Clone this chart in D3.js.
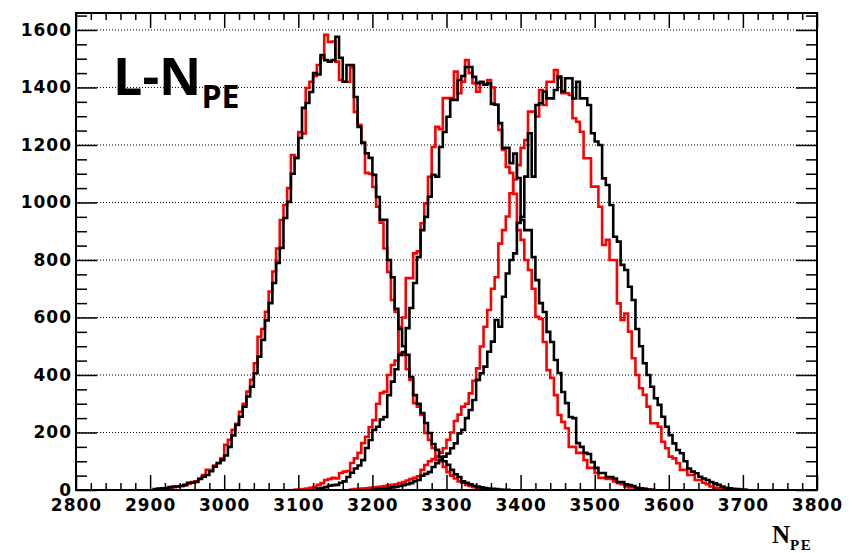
<!DOCTYPE html>
<html>
<head>
<meta charset="utf-8">
<title>L-NPE histograms</title>
<script src="https://cdnjs.cloudflare.com/ajax/libs/d3/7.8.5/d3.min.js"></script>
<style>
  body { margin: 0; background: #fff; }
  .tick text { font-family: "DejaVu Sans", sans-serif; font-weight: bold; font-size: 17px; letter-spacing: 1px; fill: #000; }
  .tick line { stroke: #000; stroke-width: 1.5; }
  .domain { display: none; }
</style>
</head>
<body>
<div id="chart"></div>
<script>
// bin width 5 N_PE; each array starts at its own lower edge
const binWidth = 5;

const h1BlackStart = 2905;
const h1Black = [3,5,6,7,10,12,12,14,17,25, 25,28,38,46,52,65,81,93,104,120,
  150,190,226,255,290,325,359,406,464,522, 590,650,720,790,842,946,1002,1100,1155,1224,
  1329,1346,1384,1450,1445,1513,1495,1490,1495,1576, 1503,1420,1478,1478,1367,1263,1207,1171,1155,1096,
  1019,940,940,800,740,630,560,500,470,393, 330,300,268,233,198,160,140,115,100,88,
  70,55,45,30,25,20,15,12,9,7, 5,4,3,2,1,1];

const h1RedStart = 2905;
const h1Red = [2,3,4,6,8,10,12,14,18,22, 28,30,40,52,70,68,85,95,110,157,
  175,209,230,272,300,342,383,441,533,560, 620,690,760,840,939,991,1050,1165,1155,1245,
  1240,1398,1420,1440,1478,1503,1583,1558,1560,1490, 1426,1420,1420,1470,1315,1270,1210,1103,1100,1054,
  985,930,840,758,661,619,476,470,420,383, 302,290,261,198,174,146,104,100,80,62,
  50,40,30,25,18,14,10,7,5,4, 2,2,1];

const h2BlackStart = 3125;
const h2Black = [5,7,10,15,17,18,25,30,45,60, 75,85,104,146,174,209,220,245,254,330,
  377,420,470,480,563,633,720,810,904,950, 1020,1096,1090,1193,1245,1298,1357,1357,1426,1440,
  1471,1471,1437,1415,1420,1410,1415,1343,1340,1276, 1190,1190,1137,1170,1085,939,904,904,810,730,
  650,619,550,515,452,407,341,302,254,250, 163,150,129,125,97,77,59,59,45,45,
  40,28,28,20,17,14,8,6,4,2, 1];

const h2RedStart = 3095;
const h2Red = [2,2,3,5,8,10,18,24,35,38, 42,40,59,64,66,94,110,129,163,185,
  219,243,300,337,342,400,435,450,567,600, 737,737,823,830,928,997,1089,1193,1263,1255,
  1363,1363,1363,1455,1380,1420,1495,1450,1415,1385, 1415,1410,1426,1400,1340,1252,1183,1124,1103,1030,
  904,870,800,765,700,602,595,515,417,390, 330,261,237,215,150,150,129,129,104,77,
  77,59,42,42,38,38,30,24,20,12, 9,9,4,4,3,2,1];

const h3BlackStart = 3200;
const h3Black = [2,3,4,5,7,9,11,14,17,20, 24,30,35,50,56,62,80,93,105,116,
  127,145,162,197,209,250,278,313,383,406, 429,481,516,591,568,672,753,800,823,929,
  950,1090,1241,1090,1339,1345,1386,1362,1362,1391, 1438,1386,1432,1432,1362,1420,1362,1362,1339,1241,
  1212,1200,1084,1061,991,881,864,783,765,707, 661,560,500,441,400,359,319,296,255,220,
  191,162,139,128,100,75,64,58,46,40, 35,28,23,18,12,8,6,4,3,2, 1];

const h3RedStart = 3170;
const h3Red = [2,3,4,5,6,8,9,10,12,14, 16,18,20,24,28,33,38,42,48,70,
  87,100,108,116,130,145,175,200,240,262, 290,300,336,380,423,499,568,626,700,740,
  857,904,951,1032,1080,1130,1190,1217,1316,1316, 1299,1391,1339,1420,1420,1461,1432,1380,1380,1374,
  1293,1281,1246,1154,1154,1055,1055,985,852,870, 800,800,649,591,614,551,458,400,354,331,
  290,232,232,220,168,145,116,110,93,70, 70,52,52,35,35,25,20,12,8,6, 4,3,2,1,1,1,1];

const xMajor = [2800,2900,3000,3100,3200,3300,3400,3500,3600,3700,3800];
const yMajor = [0,200,400,600,800,1000,1200,1400,1600];

const W = 855, H = 553;
const m = { left: 76, right: 817, top: 13, bottom: 490 };

const svg = d3.select("#chart").append("svg")
  .attr("width", W).attr("height", H);

const x = d3.scaleLinear().domain([2800, 3800]).range([m.left, m.right]);
const y = d3.scaleLinear().domain([0, 1659]).range([m.bottom, m.top]);

const xMinor = d3.range(2800, 3801, 20).filter(v => v % 100 !== 0);
const yMinor = d3.range(0, 1659, 50).filter(v => v % 200 !== 0);

// dotted horizontal grid
svg.append("g").selectAll("line")
  .data(yMajor.filter(v => v > 0))
  .join("line")
  .attr("x1", m.left).attr("x2", m.right)
  .attr("y1", d => y(d)).attr("y2", d => y(d))
  .attr("stroke", "#000").attr("stroke-width", 1)
  .attr("stroke-dasharray", "1,2");

// histograms as step outlines
function stepPoints(start, vals) {
  const pts = [[start, 0]];
  vals.forEach((v, i) => {
    pts.push([start + i * binWidth, v]);
    pts.push([start + (i + 1) * binWidth, v]);
  });
  pts.push([start + vals.length * binWidth, 0]);
  return pts;
}
const line = d3.line().x(d => x(d[0])).y(d => y(d[1]));

const series = [
  { start: h2RedStart, vals: h2Red, color: "#ff0000" },
  { start: h3RedStart, vals: h3Red, color: "#ff0000" },
  { start: h1RedStart, vals: h1Red, color: "#ff0000" },
  { start: h2BlackStart, vals: h2Black, color: "#000000" },
  { start: h3BlackStart, vals: h3Black, color: "#000000" },
  { start: h1BlackStart, vals: h1Black, color: "#000000" }
];
svg.append("g").selectAll("path")
  .data(series)
  .join("path")
  .attr("d", d => line(stepPoints(d.start, d.vals)))
  .attr("fill", "none")
  .attr("stroke", d => d.color)
  .attr("stroke-width", 2.6)
  .attr("stroke-linejoin", "miter");

// axes: ticks drawn inward on all four sides
svg.append("g").attr("transform", `translate(0,${m.bottom})`)
  .call(d3.axisBottom(x).tickValues(xMajor).tickSize(-15).tickPadding(9).tickFormat(d3.format("d")));
svg.append("g").attr("transform", `translate(0,${m.bottom})`)
  .call(d3.axisBottom(x).tickValues(xMinor).tickSize(-7).tickFormat(""));
svg.append("g").attr("transform", `translate(0,${m.top})`)
  .call(d3.axisTop(x).tickValues(xMajor).tickSize(-15).tickFormat(""));
svg.append("g").attr("transform", `translate(0,${m.top})`)
  .call(d3.axisTop(x).tickValues(xMinor).tickSize(-7).tickFormat(""));

svg.append("g").attr("transform", `translate(${m.left},0)`)
  .call(d3.axisLeft(y).tickValues(yMajor).tickSize(-21).tickPadding(4).tickFormat(d3.format("d")));
svg.append("g").attr("transform", `translate(${m.left},0)`)
  .call(d3.axisLeft(y).tickValues(yMinor).tickSize(-11).tickFormat(""));
svg.append("g").attr("transform", `translate(${m.right},0)`)
  .call(d3.axisRight(y).tickValues(yMajor).tickSize(-21).tickFormat(""));
svg.append("g").attr("transform", `translate(${m.right},0)`)
  .call(d3.axisRight(y).tickValues(yMinor).tickSize(-11).tickFormat(""));

// frame
svg.append("rect")
  .attr("x", m.left).attr("y", m.top)
  .attr("width", m.right - m.left).attr("height", m.bottom - m.top)
  .attr("fill", "none").attr("stroke", "#000").attr("stroke-width", 2);

// x axis title N_PE
const xt = svg.append("text")
  .attr("x", 772).attr("y", 543)
  .attr("font-family", "'Liberation Serif', serif")
  .attr("font-weight", "bold").attr("font-size", 25);
xt.append("tspan").text("N");
xt.append("tspan").attr("font-size", 15).attr("dy", 7).attr("letter-spacing", 1.5).text("PE");

// label inside plot
const lbl = svg.append("text")
  .attr("x", 113).attr("y", 95)
  .attr("font-family", "'Open Sans', sans-serif")
  .attr("font-weight", "bold").attr("font-size", 52);
lbl.append("tspan").text("L-N");
lbl.append("tspan").attr("font-size", 32).attr("dy", 13).text("PE");
</script>
</body>
</html>
